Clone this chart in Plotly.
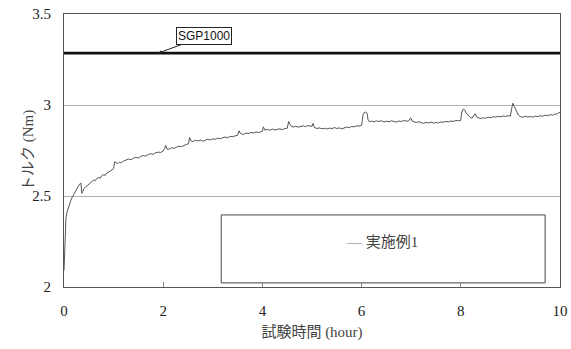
import plotly.graph_objects as go

# Torque test record: time (hour) vs torque (Nm)
time_h = [
    0.00, 0.01, 0.02, 0.03, 0.04, 0.06, 0.08, 0.10, 0.13, 0.16, 0.20, 0.23, 0.26, 0.30, 0.34,
    0.36, 0.38, 0.40, 0.43, 0.46, 0.50, 0.53, 0.56, 0.60, 0.63, 0.66, 0.70, 0.73, 0.76, 0.80,
    0.83, 0.86, 0.90, 0.93, 0.96, 1.00, 1.02, 1.04, 1.08, 1.12, 1.16, 1.20, 1.25, 1.30, 1.35,
    1.40, 1.45, 1.50, 1.55, 1.60, 1.65, 1.70, 1.75, 1.80, 1.85, 1.90, 1.95, 2.00, 2.03, 2.05,
    2.08, 2.12, 2.17, 2.22, 2.27, 2.32, 2.37, 2.42, 2.47, 2.51, 2.53, 2.56, 2.60, 2.65, 2.70,
    2.75, 2.80, 2.85, 2.90, 2.95, 3.00, 3.05, 3.10, 3.15, 3.20, 3.25, 3.30, 3.35, 3.40, 3.45,
    3.50, 3.53, 3.55, 3.58, 3.62, 3.67, 3.72, 3.77, 3.82, 3.87, 3.92, 3.97, 4.00, 4.02, 4.05,
    4.10, 4.15, 4.20, 4.25, 4.30, 4.35, 4.40, 4.45, 4.50, 4.53, 4.55, 4.58, 4.62, 4.67, 4.72,
    4.77, 4.82, 4.87, 4.92, 4.97, 5.00, 5.02, 5.05, 5.10, 5.15, 5.20, 5.25, 5.30, 5.35, 5.40,
    5.45, 5.50, 5.55, 5.60, 5.65, 5.70, 5.75, 5.80, 5.85, 5.90, 5.95, 6.00, 6.03, 6.05, 6.08,
    6.11, 6.13, 6.16, 6.20, 6.25, 6.30, 6.35, 6.40, 6.45, 6.50, 6.55, 6.60, 6.65, 6.70, 6.75,
    6.80, 6.85, 6.90, 6.95, 6.99, 7.02, 7.06, 7.10, 7.15, 7.20, 7.25, 7.30, 7.35, 7.40, 7.45,
    7.50, 7.55, 7.60, 7.65, 7.70, 7.75, 7.80, 7.85, 7.90, 7.95, 8.00, 8.02, 8.05, 8.08, 8.11,
    8.15, 8.19, 8.23, 8.27, 8.29, 8.32, 8.36, 8.40, 8.45, 8.50, 8.55, 8.60, 8.65, 8.70, 8.75,
    8.80, 8.85, 8.90, 8.95, 9.00, 9.03, 9.05, 9.08, 9.12, 9.16, 9.20, 9.25, 9.30, 9.35, 9.40,
    9.45, 9.50, 9.55, 9.60, 9.65, 9.70, 9.75, 9.80, 9.85, 9.90, 9.95, 9.98, 10.00,
]
torque_nm = [
    2.09, 2.20, 2.30, 2.35, 2.38, 2.41, 2.43, 2.45, 2.47, 2.49, 2.51, 2.53, 2.545, 2.56, 2.572,
    2.515, 2.525, 2.54, 2.548, 2.556, 2.567, 2.572, 2.579, 2.588, 2.584, 2.596, 2.602, 2.598, 2.611, 2.617,
    2.613, 2.626, 2.631, 2.637, 2.645, 2.650, 2.688, 2.684, 2.678, 2.686, 2.683, 2.692, 2.697, 2.703, 2.699,
    2.708, 2.712, 2.709, 2.718, 2.722, 2.719, 2.728, 2.732, 2.729, 2.738, 2.741, 2.739, 2.747, 2.762, 2.778,
    2.756, 2.758, 2.765, 2.762, 2.768, 2.774, 2.771, 2.779, 2.784, 2.786, 2.822, 2.803, 2.799, 2.806, 2.802,
    2.808, 2.801, 2.806, 2.812, 2.808, 2.814, 2.811, 2.818, 2.815, 2.821, 2.824, 2.820, 2.828, 2.826, 2.832,
    2.834, 2.858, 2.846, 2.841, 2.838, 2.846, 2.843, 2.849, 2.846, 2.852, 2.849, 2.853, 2.856, 2.880, 2.862,
    2.866, 2.861, 2.868, 2.862, 2.866, 2.869, 2.864, 2.871, 2.872, 2.910, 2.896, 2.884, 2.879, 2.883, 2.878,
    2.882, 2.886, 2.881, 2.887, 2.884, 2.883, 2.899, 2.876, 2.871, 2.874, 2.869, 2.872, 2.868, 2.873, 2.870,
    2.876, 2.871, 2.874, 2.869, 2.876, 2.879, 2.876, 2.882, 2.880, 2.886, 2.884, 2.889, 2.946, 2.958, 2.961,
    2.955, 2.918, 2.908, 2.912, 2.907, 2.913, 2.909, 2.914, 2.906, 2.911, 2.908, 2.913, 2.910, 2.906, 2.912,
    2.909, 2.915, 2.911, 2.913, 2.930, 2.911, 2.907, 2.904, 2.908, 2.903, 2.899, 2.905, 2.901, 2.906, 2.900,
    2.904, 2.901, 2.907, 2.905, 2.910, 2.907, 2.912, 2.910, 2.915, 2.913, 2.916, 2.962, 2.978, 2.972, 2.955,
    2.942, 2.932, 2.928, 2.940, 2.952, 2.934, 2.929, 2.925, 2.930, 2.927, 2.933, 2.930, 2.936, 2.933, 2.938,
    2.935, 2.940, 2.937, 2.941, 2.939, 2.985, 3.010, 2.992, 2.963, 2.945, 2.936, 2.933, 2.938, 2.934, 2.937,
    2.933, 2.939, 2.936, 2.941, 2.938, 2.944, 2.941, 2.947, 2.944, 2.950, 2.952, 2.958, 2.960,
]

# Reference level of the comparison product
sgp_name = "SGP1000"
sgp_level = 3.285
sgp_span = [0, 10]

series_name = "実施例1"
x_title = "試験時間 (hour)"
y_title = "トルク (Nm)"
x_ticks = [0, 2, 4, 6, 8, 10]
y_ticks = [2, 2.5, 3, 3.5]

serif = "Liberation Serif"
serif_cjk = "Liberation Serif, Noto Sans CJK JP"

fig = go.Figure()

fig.add_trace(go.Scatter(
    x=time_h, y=torque_nm, mode="lines", name=series_name,
    line=dict(color="#555555", width=1), showlegend=False,
))

fig.add_trace(go.Scatter(
    x=sgp_span, y=[sgp_level, sgp_level], mode="lines", name=sgp_name,
    line=dict(color="#111111", width=2.6), showlegend=False,
))

# Callout for the reference level
fig.add_annotation(
    x=1.9, y=sgp_level, xref="x", yref="y",
    text=sgp_name, showarrow=True, arrowhead=2, arrowsize=0.7, arrowwidth=1,
    arrowcolor="#222222", ax=46, ay=-17,
    font=dict(family="Liberation Sans", size=12, color="#111111"),
    bgcolor="white", bordercolor="#222222", borderwidth=1, borderpad=1,
)

# Legend frame and entry
fig.add_shape(
    type="rect", xref="paper", yref="paper",
    x0=0.317, x1=0.970, y0=0.015, y1=0.264,
    line=dict(color="#444444", width=1), fillcolor="white", layer="below",
)
fig.add_annotation(
    x=0.641, y=0.128, xref="paper", yref="paper", showarrow=False,
    text="<span style='color:#777777'>—</span> " + series_name,
    font=dict(family=serif_cjk, size=15, color="#444444", weight="normal"),
)

# Vertical y-axis title placed beside the tick labels
fig.add_annotation(
    x=0, y=0.5, xref="paper", yref="paper", xshift=-46, showarrow=False,
    text=y_title, textangle=-90,
    font=dict(family=serif_cjk, size=15, color="#444444"),
)

fig.update_xaxes(
    range=[0, 10], tickvals=x_ticks, ticks="inside", ticklen=5, tickcolor="#888888",
    showgrid=False, zeroline=False, showline=True, mirror=True,
    linecolor="#555555", linewidth=1, automargin=False, ticklabelstandoff=10,
    tickfont=dict(family=serif, size=15, color="#222222"),
    title=dict(text=x_title, font=dict(family=serif_cjk, size=15, color="#444444"), standoff=8),
)
fig.update_yaxes(
    range=[2, 3.5], tickvals=y_ticks, ticktext=["2", "2.5", "3", "3.5"], ticks="",
    showgrid=True, gridcolor="#b0b0b0", gridwidth=1, zeroline=False,
    showline=True, mirror=True, linecolor="#555555", linewidth=1,
    automargin=False, ticklabelstandoff=9,
    tickfont=dict(family=serif, size=15, color="#222222"),
)

fig.update_layout(
    width=571, height=349,
    margin=dict(l=64, r=11, t=14, b=62, autoexpand=False),
    paper_bgcolor="white", plot_bgcolor="white",
)

fig.write_html("out.html")
